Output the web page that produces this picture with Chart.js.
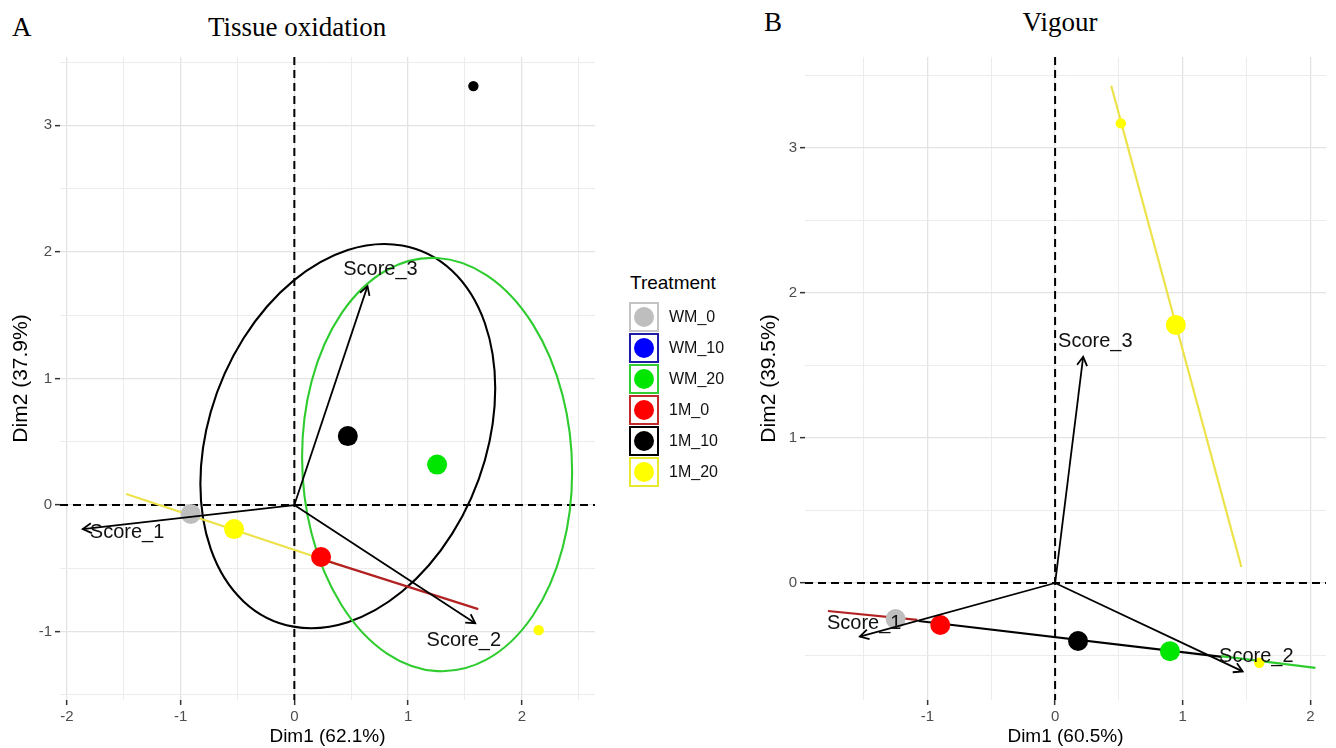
<!DOCTYPE html>
<html><head><meta charset="utf-8">
<script src="https://cdn.jsdelivr.net/npm/chart.js@4.4.1/dist/chart.umd.min.js"></script>
<style>
html,body{margin:0;padding:0;background:#fff;}
body{width:1336px;height:748px;overflow:hidden;position:relative;font-family:"Liberation Sans",Arial,sans-serif;}
canvas{position:absolute;top:0;}
.ttl{position:absolute;font-family:"Liberation Serif","Times New Roman",serif;font-size:27px;line-height:28px;color:#000;white-space:nowrap;}
.legend{position:absolute;left:629px;top:270px;}
.lt{position:absolute;left:1px;top:0;font-size:19px;line-height:26px;color:#000;white-space:nowrap;}
.row{position:absolute;left:0;height:28px;width:120px;}
.key{position:absolute;left:0;top:0;width:26px;height:26px;border:2px solid #000;box-sizing:content-box;}
.dot{position:absolute;left:3px;top:3px;width:20px;height:20px;border-radius:50%;}
.lab{position:absolute;left:40px;top:0;font-size:16px;line-height:30px;color:#111;white-space:nowrap;}
</style></head>
<body>
<div class="ttl" style="left:12px;top:13px;">A</div>
<div class="ttl" id="tA" style="top:13px;"></div>
<div class="ttl" style="left:764px;top:8px;">B</div>
<div class="ttl" id="tB" style="top:8px;"></div>
<canvas id="cA" width="605" height="748" style="left:0;width:605px;height:748px;"></canvas>
<canvas id="cB" width="596" height="748" style="left:740px;width:596px;height:748px;"></canvas>
<div class="legend" id="leg"></div>
<script>
// ---------- shared groups ----------
const legendTitle = 'Treatment';
const treatments = ['WM_0','WM_10','WM_20','1M_0','1M_10','1M_20'];
const groupFill   = ['#bebebe','#0000ff','#00e600','#ff0000','#000000','#ffff00'];
const groupBorder = ['#c4c4c4','#1c1ca8','#33cc33','#c02a2a','#000000','#e8e830'];
const groupLine   = ['#bebebe','#0000ff','#2fcc2f','#b22222','#000000','#ece24a'];

// ---------- Panel A : Tissue oxidation ----------
const A_title = 'Tissue oxidation';
const A_xLabel = 'Dim1 (62.1%)';
const A_yLabel = 'Dim2 (37.9%)';
const A_xTicks = [-2,-1.5,-1,-0.5,0,0.5,1,1.5,2,2.5];
const A_yTicks = [-1.5,-1,-0.5,0,0.5,1,1.5,2,2.5,3,3.5];
const A_meanX = [-0.91, null, 1.255, 0.235, 0.47, -0.53];
const A_meanY = [-0.07, null, 0.32, -0.41, 0.545, -0.19];
const A_indGroup = ['1M_10','1M_20'];
const A_indX = [1.574, 2.148];
const A_indY = [3.31, -0.988];
const A_segGroup = ['1M_0','1M_20'];
const A_segX0 = [0.23, -1.478];
const A_segY0 = [-0.425, 0.087];
const A_segX1 = [1.617, 0.42];
const A_segY1 = [-0.822, -0.48];
const A_ellGroup = ['1M_10','WM_20'];
const A_ellPx = [1.296, 1.187];
const A_ellPy = [0.377, -0.060];
const A_ellQx = [0, 0];
const A_ellQy = [1.470, 1.632];
const A_vars = ['Score_1','Score_2','Score_3'];
const A_varX = [-1.86, 1.59, 0.643];
const A_varY = [-0.19, -0.933, 1.73];
const A_varLabX = [-1.47, 1.49, 0.757];
const A_varLabY = [-0.213, -1.067, 1.858];

// ---------- Panel B : Vigour ----------
const B_title = 'Vigour';
const B_xLabel = 'Dim1 (60.5%)';
const B_yLabel = 'Dim2 (39.5%)';
const B_xTicks = [-1.5,-1,-0.5,0,0.5,1,1.5,2];
const B_yTicks = [-0.5,0,0.5,1,1.5,2,2.5,3,3.5];
const B_meanX = [-1.25, null, 0.90, -0.90, 0.18, 0.946];
const B_meanY = [-0.248, null, -0.47, -0.29, -0.40, 1.78];
const B_indGroup = ['1M_20','1M_20'];
const B_indX = [0.515, 1.60];
const B_indY = [3.17, -0.55];
const B_segGroup = ['1M_0','WM_20','1M_10','1M_20'];
const B_segX0 = [-1.78, 1.30, -1.07, 0.44];
const B_segY0 = [-0.193, -0.505, -0.262, 3.43];
const B_segX1 = [-1.08, 2.04, 1.31, 1.46];
const B_segY1 = [-0.255, -0.586, -0.51, 0.11];
const B_ellGroup = [];
const B_ellPx = [], B_ellPy = [], B_ellQx = [], B_ellQy = [];
const B_vars = ['Score_1','Score_2','Score_3'];
const B_varX = [-1.53, 1.47, 0.22];
const B_varY = [-0.37, -0.61, 1.56];
const B_varLabX = [-1.496, 1.577, 0.315];
const B_varLabY = [-0.276, -0.51, 1.665];

const FONT = '"Liberation Sans", Arial, sans-serif';

function gridColor(c){ if(!c.tick) return '#ebebeb'; return Number.isInteger(c.tick.value) ? '#e3e3e3' : '#ececec'; }
function gridWidth(c){ if(!c.tick) return 1; return Number.isInteger(c.tick.value) ? 1.3 : 1.0; }
function tickColor(c){ if(!c.tick) return 'transparent'; return Number.isInteger(c.tick.value) ? '#333333' : 'rgba(0,0,0,0)'; }

function buildPanel(canvasId, p){
  const datasets = [];
  // degenerate ellipses (segments)
  p.segGroup.forEach((g,i)=>{
    const gi = treatments.indexOf(g);
    datasets.push({type:'line', data:[{x:p.segX0[i],y:p.segY0[i]},{x:p.segX1[i],y:p.segY1[i]}],
      borderColor:groupLine[gi], borderWidth:2.2, pointRadius:0, fill:false, order:6});
  });
  // individuals
  p.indGroup.forEach((g,i)=>{
    const gi = treatments.indexOf(g);
    datasets.push({type:'scatter', data:[{x:p.indX[i],y:p.indY[i]}],
      backgroundColor:groupFill[gi], borderColor:groupFill[gi], pointRadius:5.2, borderWidth:0, order:4});
  });
  // group means
  treatments.forEach((g,gi)=>{
    if(p.meanX[gi]===null) return;
    datasets.push({type:'scatter', data:[{x:p.meanX[gi],y:p.meanY[gi]}],
      backgroundColor:groupFill[gi], borderColor:groupFill[gi], pointRadius:10, borderWidth:0, order:3});
  });
  // variable arrows (shafts)
  p.vars.forEach((v,i)=>{
    datasets.push({type:'line', data:[{x:0,y:0},{x:p.varX[i],y:p.varY[i]}],
      borderColor:'#000', borderWidth:1.8, pointRadius:0, fill:false, order:1});
  });

  const plugin = {
    id:'biplot_'+canvasId,
    beforeDatasetsDraw(chart){
      const {ctx, chartArea:a, scales:{x,y}} = chart;
      ctx.save();
      ctx.beginPath(); ctx.rect(a.left,a.top,a.right-a.left,a.bottom-a.top); ctx.clip();
      const x0 = x.getPixelForValue(0), y0 = y.getPixelForValue(0);
      ctx.setLineDash([8,5]); ctx.lineWidth = 2; ctx.strokeStyle = '#000';
      ctx.beginPath(); ctx.moveTo(a.left,y0); ctx.lineTo(a.right,y0);
      ctx.moveTo(x0,a.top); ctx.lineTo(x0,a.bottom); ctx.stroke();
      ctx.setLineDash([]);
      p.ellGroup.forEach((g,i)=>{
        const gi = treatments.indexOf(g);
        const cx = p.meanX[gi], cy = p.meanY[gi];
        const c = [x.getPixelForValue(cx), y.getPixelForValue(cy)];
        const P = [x.getPixelForValue(cx+p.ellPx[i])-c[0], y.getPixelForValue(cy+p.ellPy[i])-c[1]];
        const Q = [x.getPixelForValue(cx+p.ellQx[i])-c[0], y.getPixelForValue(cy+p.ellQy[i])-c[1]];
        ctx.save(); ctx.beginPath();
        ctx.transform(P[0],P[1],Q[0],Q[1],c[0],c[1]);
        ctx.arc(0,0,1,0,Math.PI*2);
        ctx.restore();
        ctx.strokeStyle = groupLine[gi]; ctx.lineWidth = 2.1; ctx.stroke();
      });
      ctx.restore();
    },
    afterDatasetsDraw(chart){
      const {ctx, scales:{x,y}} = chart;
      ctx.save();
      const ox = x.getPixelForValue(0), oy = y.getPixelForValue(0);
      p.vars.forEach((v,i)=>{
        const tx = x.getPixelForValue(p.varX[i]), ty = y.getPixelForValue(p.varY[i]);
        const ang = Math.atan2(ty-oy, tx-ox), L = 10, A = Math.PI/6;
        ctx.beginPath();
        ctx.moveTo(tx - L*Math.cos(ang-A), ty - L*Math.sin(ang-A));
        ctx.lineTo(tx, ty);
        ctx.lineTo(tx - L*Math.cos(ang+A), ty - L*Math.sin(ang+A));
        ctx.strokeStyle = '#000'; ctx.lineWidth = 1.8; ctx.stroke();
        ctx.font = '20px ' + FONT; ctx.fillStyle = '#111';
        ctx.textAlign = 'center'; ctx.textBaseline = 'middle';
        ctx.fillText(v, x.getPixelForValue(p.varLabX[i]), y.getPixelForValue(p.varLabY[i]));
      });
      ctx.restore();
    }
  };

  return new Chart(document.getElementById(canvasId), {
    type:'scatter',
    data:{datasets},
    plugins:[plugin],
    options:{
      responsive:false, animation:false, devicePixelRatio:1,
      layout:{padding:{top:57, right:p.padRight, left:0, bottom:0}},
      plugins:{legend:{display:false}, tooltip:{enabled:false}},
      scales:{
        x:{type:'linear', position:'bottom', min:p.xMin, max:p.xMax,
          afterBuildTicks:s=>{ s.ticks = p.xTicks.map(v=>({value:v})); },
          afterFit:s=>{ s.height = 48; },
          grid:{color:gridColor, lineWidth:gridWidth, tickColor:tickColor, tickLength:5, tickWidth:1.5, drawTicks:true},
          border:{display:false},
          ticks:{autoSkip:false, maxRotation:0, minRotation:0, padding:3, color:'#4d4d4d',
            font:{size:15, family:FONT}, callback:v=>Number.isInteger(v)?String(v):''},
          title:{display:true, text:p.xLabel, color:'#000', font:{size:19, family:FONT}, padding:{top:0,bottom:0}}
        },
        y:{type:'linear', position:'left', min:p.yMin, max:p.yMax,
          afterBuildTicks:s=>{ s.ticks = p.yTicks.map(v=>({value:v})); },
          afterFit:s=>{ s.width = p.yAxisW; },
          grid:{color:gridColor, lineWidth:gridWidth, tickColor:tickColor, tickLength:5, tickWidth:1.5, drawTicks:true},
          border:{display:false},
          ticks:{autoSkip:false, padding:3, color:'#4d4d4d',
            font:{size:15, family:FONT}, callback:v=>Number.isInteger(v)?String(v):''},
          title:{display:true, text:p.yLabel, color:'#000', font:{size:21, family:FONT}, padding:{top:p.yTitlePad,bottom:0}}
        }
      }
    }
  });
}

buildPanel('cA', {
  xLabel:A_xLabel, yLabel:A_yLabel, xTicks:A_xTicks, yTicks:A_yTicks,
  xMin:-2.06, xMax:2.643, yMin:-1.54, yMax:3.54, padRight:4, yAxisW:60, yTitlePad:9,
  meanX:A_meanX, meanY:A_meanY, indGroup:A_indGroup, indX:A_indX, indY:A_indY,
  segGroup:A_segGroup, segX0:A_segX0, segY0:A_segY0, segX1:A_segX1, segY1:A_segY1,
  ellGroup:A_ellGroup, ellPx:A_ellPx, ellPy:A_ellPy, ellQx:A_ellQx, ellQy:A_ellQy,
  vars:A_vars, varX:A_varX, varY:A_varY, varLabX:A_varLabX, varLabY:A_varLabY
});
buildPanel('cB', {
  xLabel:B_xLabel, yLabel:B_yLabel, xTicks:B_xTicks, yTicks:B_yTicks,
  xMin:-1.96, xMax:2.123, yMin:-0.807, yMax:3.628, padRight:0, yAxisW:65, yTitlePad:17,
  meanX:B_meanX, meanY:B_meanY, indGroup:B_indGroup, indX:B_indX, indY:B_indY,
  segGroup:B_segGroup, segX0:B_segX0, segY0:B_segY0, segX1:B_segX1, segY1:B_segY1,
  ellGroup:B_ellGroup, ellPx:B_ellPx, ellPy:B_ellPy, ellQx:B_ellQx, ellQy:B_ellQy,
  vars:B_vars, varX:B_varX, varY:B_varY, varLabX:B_varLabX, varLabY:B_varLabY
});

// titles
function centerTitle(id, text, cx){
  const el = document.getElementById(id); el.textContent = text;
  el.style.left = (cx - el.offsetWidth/2) + 'px';
}
centerTitle('tA', A_title, 297);
centerTitle('tB', B_title, 1060);

// legend
const leg = document.getElementById('leg');
const lt = document.createElement('div'); lt.className='lt'; lt.textContent = legendTitle; leg.appendChild(lt);
treatments.forEach((g,i)=>{
  const row = document.createElement('div'); row.className='row'; row.style.top = (32 + i*31) + 'px';
  const key = document.createElement('div'); key.className='key'; key.style.borderColor = groupBorder[i];
  const dot = document.createElement('div'); dot.className='dot'; dot.style.background = groupFill[i];
  key.appendChild(dot); row.appendChild(key);
  const lab = document.createElement('div'); lab.className='lab'; lab.textContent = g; row.appendChild(lab);
  leg.appendChild(row);
});
</script>
</body></html>
